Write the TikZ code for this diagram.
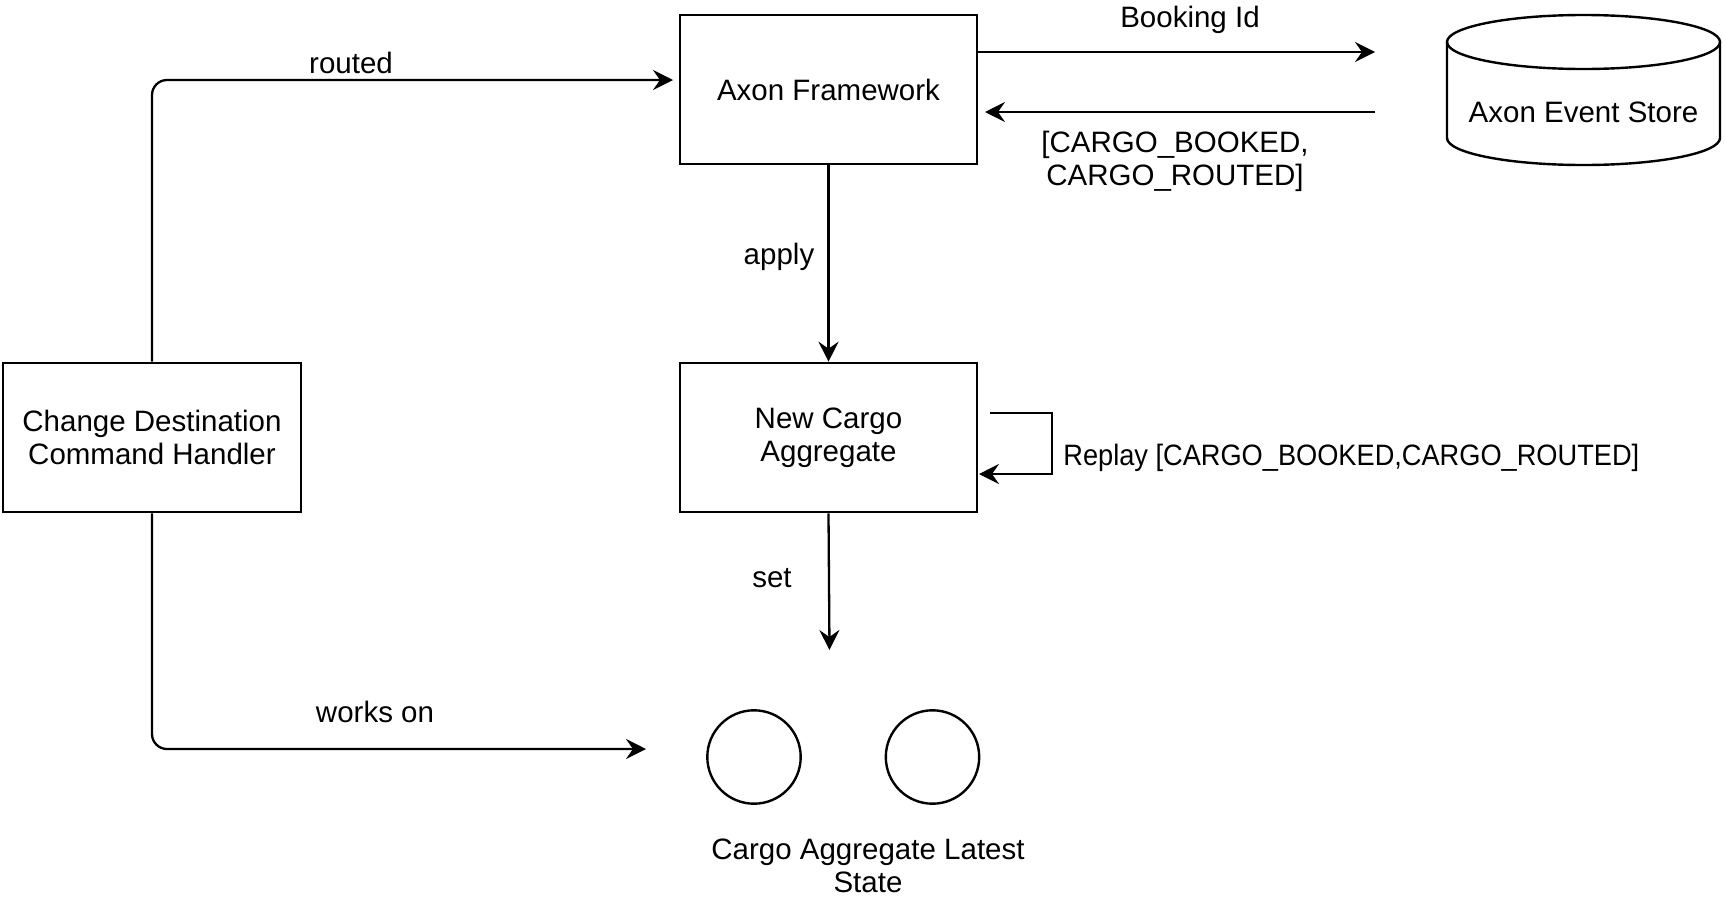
\documentclass[tikz,border=0pt]{standalone}
\usepackage{fontspec}
\setmainfont{Liberation Sans}
\newfontfamily\narrowsans{Liberation Sans}[FakeStretch=0.922]
\usetikzlibrary{arrows.meta,calc}
\begin{document}
\begin{tikzpicture}[x=0.5pt,y=-0.5pt,
  every node/.style={font=\fontsize{14.75pt}{16.5pt}\selectfont, inner sep=0pt},
  box/.style={draw, line width=1.3pt, minimum width=148.5pt, minimum height=74.5pt, align=center},
  arr/.style={line width=1.15pt, -{Stealth[length=10pt,width=10pt,inset=3.5pt]}},
  lbl/.style={align=center},
  shapeline/.style={line width=1.2pt}]
\useasboundingbox (0,0) rectangle (1725,900);

% boxes
\node[box] (af)  at (828.5,89.5)  {Axon Framework};
\node[box] (ncg) at (828.5,437.5) {New Cargo\\Aggregate};
\node[box, minimum width=149pt] (cdh) at (152,437.5) {Change Destination\\Command Handler};

% cylinder (event store)
\draw[shapeline] (1447,42) -- (1447,138)
  arc[start angle=180,end angle=360,x radius=68.25pt,y radius=13.5pt] -- (1720,42);
\draw[shapeline] (1583.5,42) ellipse[x radius=68.25pt,y radius=13.5pt];
\node (store) at (1583.5,112) {Axon Event Store};

% circles
\node[draw, shapeline, circle, minimum size=46.7pt] (c1) at (754,757) {};
\node[draw, shapeline, circle, minimum size=46.7pt] (c2) at (932.5,757) {};
\node[lbl] (state) at (868,866) {Cargo Aggregate Latest\\State};

% free ends
\coordinate (bookEnd) at (1375,52);
\coordinate (retStart) at (1375,112);
\coordinate (retEnd) at (985,112);
\coordinate (routedEnd) at (673,80);
\coordinate (worksEnd) at (646,749);
\coordinate (setEnd) at (829.5,650);
\coordinate (repStart) at (990,413);
\coordinate (repEnd) at (979,474);

% connectors
\draw[arr] (af.east |- bookEnd) -- (bookEnd);
\draw[arr] (retStart) -- (retEnd);
\draw[arr, rounded corners=7.5pt] (cdh.north) |- (routedEnd);
\draw[arr, rounded corners=7.5pt] (cdh.south) |- (worksEnd);
\draw[arr] (af.south) -- (ncg.north);
\draw[arr] (ncg.south) -- (setEnd);
\draw[arr] (repStart) -- ++(62,0) |- (repEnd);

% labels
\node[anchor=base] (lbook) at (1190,27) {Booking Id};
\node[lbl] (lret) at (1175,161) {[CARGO\_BOOKED,\\CARGO\_ROUTED]};
\node (lrouted) at (351,63) {routed};
\node[anchor=base] (lapply) at (779,264) {apply};
\node (lset) at (772,578) {set};
\node (lworks) at (375,712) {works on};
\node[anchor=base west, font=\narrowsans\fontsize{14.75pt}{16.5pt}\selectfont] (lrep) at (1063,465) {Replay [CARGO\_BOOKED,CARGO\_ROUTED]};
\end{tikzpicture}
\end{document}
